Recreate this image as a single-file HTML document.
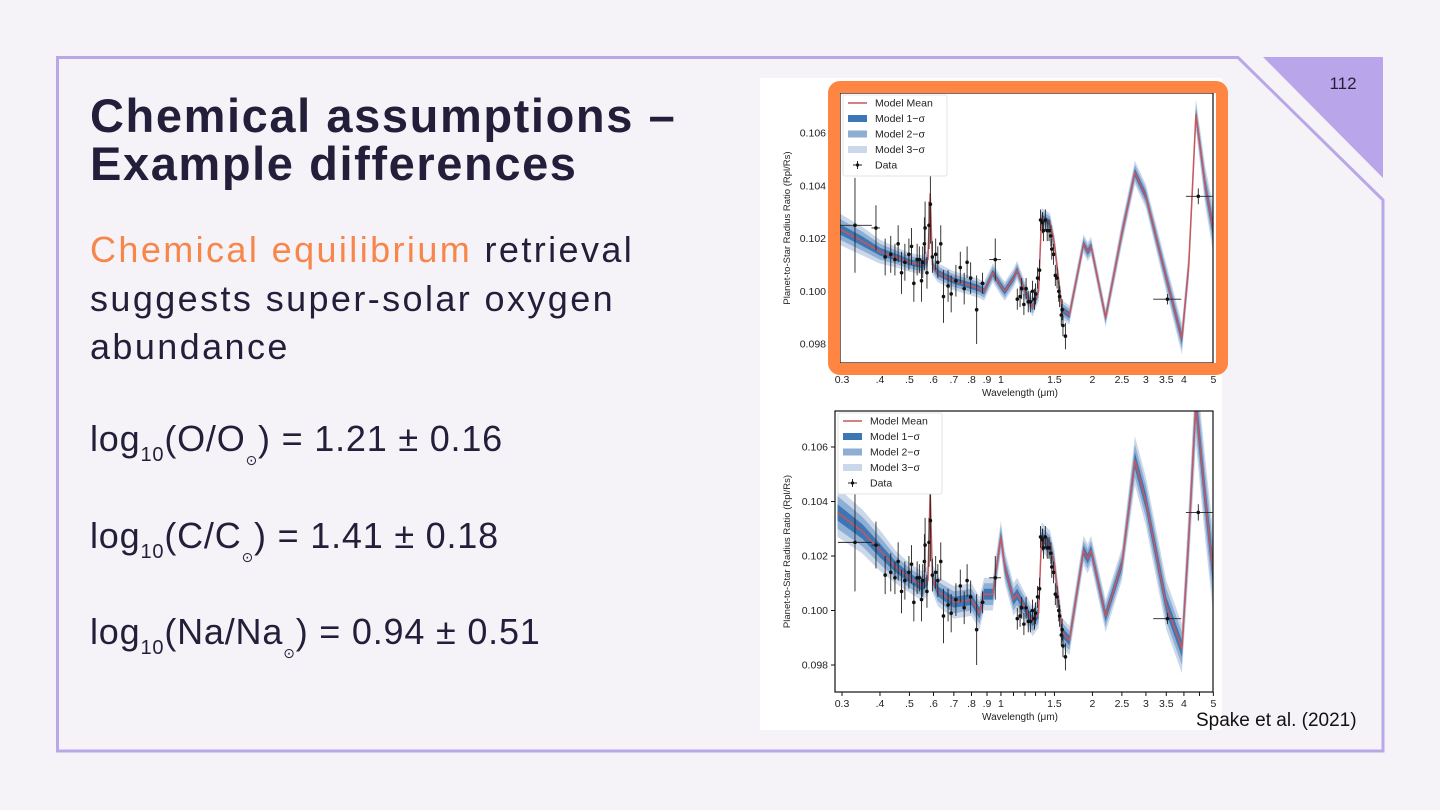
<!DOCTYPE html>
<html><head><meta charset="utf-8">
<style>
body{margin:0;width:1440px;height:810px;background:#f5f3f7;overflow:hidden;position:relative;font-family:"Liberation Sans","DejaVu Sans",sans-serif;color:#231f3a}
.abs{position:absolute;white-space:nowrap}
.title{left:90px;top:92px;font-size:47px;font-weight:bold;line-height:48px;letter-spacing:1.6px}
.body{left:90px;top:226px;font-size:36px;line-height:48.5px;letter-spacing:2.4px}
.eq{left:90px;font-size:36px;letter-spacing:0.8px}
.eq sub{font-size:20px;vertical-align:-10px}
.eq .sun{font-size:14px;vertical-align:-14px}
</style></head><body>
<svg class="abs" style="left:0;top:0" width="1440" height="810">
<path d="M57.5 57.5 L1238 57.5 L1383 200 L1383 751 L57.5 751 Z" fill="none" stroke="#b9a8e8" stroke-width="3"/>
<path d="M1263 57 L1383 57 L1383 178 Z" fill="#b9a6ea"/>
<text x="1343" y="89" font-size="17" text-anchor="middle" fill="#231f3a" font-family="Liberation Sans">112</text>
</svg>
<div class="abs title">Chemical assumptions –<br>Example differences</div>
<div class="abs body"><span style="color:#f7864b">Chemical equilibrium</span> retrieval<br>suggests super-solar oxygen<br>abundance</div>
<div class="abs eq" style="top:418px">log<sub>10</sub>(O/O<span class="sun">⊙</span>) = 1.21 ± 0.16</div>
<div class="abs eq" style="top:515px">log<sub>10</sub>(C/C<span class="sun">⊙</span>) = 1.41 ± 0.18</div>
<div class="abs eq" style="top:611px">log<sub>10</sub>(Na/Na<span class="sun">⊙</span>) = 0.94 ± 0.51</div>
<div class="abs" style="left:760px;top:78px;width:462px;height:652px;background:#fff"></div>
<svg id="fig" class="abs" style="left:0;top:0" width="1440" height="810"></svg>
<div class="abs" style="left:1196px;top:710px;font-size:19px;color:#111">Spake et al. (2021)</div>
<script>
const modelWl=[0.29,0.35,0.4,0.45,0.5,0.55,0.575,0.585,0.595,0.62,0.7,0.8,0.85,0.88,0.94,1.0,1.03,1.1,1.13,1.2,1.27,1.33,1.36,1.45,1.5,1.59,1.68,1.87,1.93,1.98,2.21,2.5,2.76,3.0,3.5,3.94,4.15,4.38,4.7,5.0];
const topMean=[0.1024,0.1019,0.1015,0.1013,0.1011,0.1010,0.1012,0.1037,0.1010,0.1007,0.1004,0.1002,0.1001,0.1000,0.1007,0.1002,0.1000,0.1005,0.1008,0.1000,0.0994,0.1000,0.1028,0.1026,0.1018,0.0993,0.0991,0.1018,0.1015,0.1017,0.0990,0.1022,0.1045,0.1036,0.1005,0.0982,0.1010,0.1067,0.1040,0.1023];
const topSig=[0.0002,0.00018,0.00015,0.00013,0.00012,0.00012,0.00012,0.00012,0.00012,0.00012,0.00012,0.00012,0.00012,0.00012,0.00012,0.00012,0.00012,0.00012,0.00012,0.00012,0.00012,0.00012,0.00012,0.00012,0.00012,0.00012,0.00012,0.00012,0.00012,0.00012,0.00012,0.00015,0.00015,0.00015,0.00018,0.0002,0.0002,0.0002,0.00025,0.0003];
const botMean=[0.1036,0.1029,0.1022,0.1016,0.1012,0.1009,0.1011,0.1044,0.1012,0.1007,0.1003,0.1004,0.0999,0.1006,0.1006,0.1027,0.1016,0.1004,0.1006,0.1001,0.0996,0.0999,0.1027,0.1024,0.1017,0.0992,0.0989,0.1022,0.1019,0.1022,0.0998,0.1017,0.1055,0.1040,0.1002,0.0986,0.1027,0.1076,0.1041,0.1013];
const botSig=[0.0003,0.00027,0.00025,0.0002,0.00018,0.00018,0.00018,0.00018,0.00018,0.00018,0.0002,0.0002,0.0002,0.0002,0.0002,0.0002,0.0002,0.0002,0.0002,0.00018,0.00018,0.00018,0.00018,0.00018,0.00018,0.00018,0.00018,0.00018,0.00018,0.00018,0.0002,0.0002,0.0003,0.0003,0.0003,0.0003,0.0004,0.0005,0.0005,0.0005];
const dataWl=[0.331,0.388,0.416,0.434,0.448,0.459,0.471,0.483,0.498,0.508,0.517,0.530,0.539,0.548,0.553,0.560,0.563,0.571,0.580,0.586,0.595,0.610,0.620,0.634,0.647,0.670,0.686,0.711,0.735,0.757,0.774,0.795,0.832,0.870,0.958,1.132,1.156,1.17,1.19,1.21,1.23,1.25,1.27,1.29,1.30,1.32,1.34,1.35,1.37,1.38,1.40,1.42,1.44,1.46,1.47,1.49,1.51,1.53,1.55,1.56,1.58,1.59,1.60,1.63,3.53,4.46];
const dataVal=[0.1025,0.1024,0.1013,0.1014,0.1012,0.1018,0.1007,0.1011,0.1014,0.1017,0.1003,0.1012,0.1012,0.1004,0.1011,0.1018,0.1024,0.1007,0.1025,0.1033,0.1013,0.1014,0.1011,0.1018,0.0998,0.1002,0.0999,0.1004,0.1009,0.1001,0.1011,0.1005,0.0993,0.1003,0.1012,0.0997,0.0998,0.1001,0.0995,0.1001,0.0996,0.0996,0.1000,0.0997,0.0999,0.1005,0.1008,0.1027,0.1026,0.1023,0.1027,0.1023,0.1023,0.1021,0.1016,0.1014,0.1006,0.1005,0.1000,0.0998,0.0991,0.0993,0.0987,0.0983,0.0997,0.1036];
const dataErr=[0.0018,0.00086,0.0007,0.0007,0.0006,0.0007,0.0008,0.0007,0.0006,0.0007,0.0007,0.0006,0.0005,0.0008,0.0006,0.001,0.001,0.0006,0.0009,0.0015,0.0006,0.0006,0.0006,0.0007,0.001,0.0006,0.0007,0.0006,0.0006,0.0006,0.0006,0.0006,0.0013,0.0004,0.0008,0.0004,0.0004,0.0004,0.0004,0.0004,0.0004,0.0004,0.0004,0.0004,0.0004,0.0004,0.0004,0.0004,0.0004,0.0004,0.0004,0.0004,0.0004,0.0004,0.0004,0.0004,0.0004,0.0004,0.0004,0.0004,0.0004,0.0004,0.0004,0.0005,0.0002,0.0003];
const dataXLo=[0.291,0.375,0.416,0.434,0.448,0.459,0.471,0.483,0.498,0.508,0.517,0.530,0.539,0.548,0.553,0.560,0.563,0.571,0.580,0.586,0.595,0.610,0.620,0.634,0.647,0.670,0.686,0.711,0.735,0.757,0.774,0.795,0.832,0.855,0.915,1.132,1.156,1.17,1.19,1.21,1.23,1.25,1.27,1.29,1.30,1.32,1.34,1.35,1.37,1.38,1.40,1.42,1.44,1.46,1.47,1.49,1.51,1.53,1.55,1.56,1.58,1.59,1.60,1.63,3.17,4.06];
const dataXHi=[0.376,0.40,0.416,0.434,0.448,0.459,0.471,0.483,0.498,0.508,0.517,0.530,0.539,0.548,0.553,0.560,0.563,0.571,0.580,0.586,0.595,0.610,0.620,0.634,0.647,0.670,0.686,0.711,0.735,0.757,0.774,0.795,0.832,0.885,1.0,1.132,1.156,1.17,1.19,1.21,1.23,1.25,1.27,1.29,1.30,1.32,1.34,1.35,1.37,1.38,1.40,1.42,1.44,1.46,1.47,1.49,1.51,1.53,1.55,1.56,1.58,1.59,1.60,1.63,3.92,5.0];
const xTickVals=[0.3,0.4,0.5,0.6,0.7,0.8,0.9,1,1.1,1.2,1.3,1.4,1.5,2,2.5,3,3.5,4,4.5,5];
const xTickLabels=['0.3','.4','.5','.6','.7','.8','.9','1','','','','','1.5','2','2.5','3','3.5','4','','5'];
const yTickVals=[0.098,0.100,0.102,0.104,0.106];
const yTickLabels=['0.098','0.100','0.102','0.104','0.106'];

const NS='http://www.w3.org/2000/svg';
const fig=document.getElementById('fig');
function mk(tag,attrs,parent){const e=document.createElementNS(NS,tag);for(const k in attrs)e.setAttribute(k,attrs[k]);(parent||fig).appendChild(e);return e;}

function drawChart(c){
  const g=mk('g',{});
  
  
  const X=w=>c.x0+(Math.log(w)-Math.log(0.3))*c.kx;
  const Y=v=>c.y106+(0.106-v)*c.ky;
  const clipId=c.name+'-clip';
  const cp=mk('clipPath',{id:clipId},g);
  mk('rect',{x:c.L,y:c.T,width:c.R-c.L,height:c.B-c.T},cp);
  const pg=mk('g',{'clip-path':'url(#'+clipId+')'},g);
  const cols=['#cbd8ea','#8eaed3','#3d76b5'];
  [3,2,1].forEach((k,i)=>{
    let up=modelWl.map((w,j)=>X(w).toFixed(1)+','+Y(c.mean[j]+k*c.sig[j]).toFixed(1));
    let dn=modelWl.map((w,j)=>X(w).toFixed(1)+','+Y(c.mean[j]-k*c.sig[j]).toFixed(1)).reverse();
    const p=mk('polygon',{points:up.concat(dn).join(' '),fill:cols[i]},pg);
    
    
  });
  const ml=mk('polyline',{points:modelWl.map((w,j)=>X(w).toFixed(1)+','+Y(c.mean[j]).toFixed(1)).join(' '),fill:'none',stroke:'#c9565a','stroke-width':1.5,'stroke-linejoin':'round'},pg);
  
  
  dataWl.forEach((w,i)=>{
    const dg=mk('g',{stroke:'#222','stroke-width':0.9},pg);
    
    
    mk('line',{x1:X(w),x2:X(w),y1:Y(dataVal[i]-dataErr[i]),y2:Y(dataVal[i]+dataErr[i])},dg);
    if(dataXHi[i]>dataXLo[i])mk('line',{x1:X(dataXLo[i]),x2:X(dataXHi[i]),y1:Y(dataVal[i]),y2:Y(dataVal[i])},dg);
    mk('circle',{cx:X(w),cy:Y(dataVal[i]),r:1.8,fill:'#111',stroke:'none'},dg);
  });
  mk('rect',{x:c.L,y:c.T,width:c.R-c.L,height:c.B-c.T,fill:'none',stroke:'#111','stroke-width':1.2},g);
  xTickVals.forEach((v,i)=>{
    mk('line',{x1:X(v),x2:X(v),y1:c.B,y2:c.B+4,stroke:'#111','stroke-width':1},g);
    if(xTickLabels[i]){const t=mk('text',{x:X(v),y:c.xlY,'font-size':10.5,'text-anchor':'middle',fill:'#222'},g);t.textContent=xTickLabels[i];}
  });
  yTickVals.forEach((v,i)=>{
    mk('line',{x1:c.L-4,x2:c.L,y1:Y(v),y2:Y(v),stroke:'#111','stroke-width':1},g);
    const t=mk('text',{x:c.ylX,y:Y(v)+3.5,'font-size':10.5,'text-anchor':'end',fill:'#222'},g);t.textContent=yTickLabels[i];
  });
  const xl=mk('text',{x:1020,y:c.xlY+13,'font-size':10,'text-anchor':'middle',fill:'#222'},g);
  xl.textContent='Wavelength (μm)';
  
  
  const yc=(c.T+c.B)/2;
  const yl=mk('text',{x:790,y:yc,'font-size':9.5,'text-anchor':'middle',fill:'#222',transform:'rotate(-90 790 '+yc+')'},g);
  yl.textContent='Planet-to-Star Radius Ratio (Rpl/Rs)';
  
  
  const lg=mk('g',{},g);
  
  
  mk('rect',{x:c.L+3,y:c.T+2,width:104,height:81,fill:'#fff',stroke:'#ddd','stroke-width':0.8,rx:2},lg);
  const labs=['Model Mean','Model 1−σ','Model 2−σ','Model 3−σ','Data'];
  labs.forEach((s,i)=>{
    const yy=c.T+10+i*15.5;
    if(i==0)mk('line',{x1:c.L+8,x2:c.L+27,y1:yy,y2:yy,stroke:'#c9565a','stroke-width':1.6},lg);
    else if(i<4)mk('rect',{x:c.L+8,y:yy-3.5,width:19,height:7,fill:['','#3d76b5','#8eaed3','#cbd8ea'][i]},lg);
    else{mk('line',{x1:c.L+13,x2:c.L+22,y1:yy,y2:yy,stroke:'#222'},lg);mk('line',{x1:c.L+17.5,x2:c.L+17.5,y1:yy-4,y2:yy+4,stroke:'#222'},lg);mk('circle',{cx:c.L+17.5,cy:yy,r:1.6,fill:'#111'},lg);}
    const t=mk('text',{x:c.L+35,y:yy+3.5,'font-size':10.5,fill:'#222'},lg);t.textContent=s;
  });
}
drawChart({name:'top-chart',L:840,R:1213,T:93,B:363,x0:842,kx:132,y106:133,ky:26375,mean:topMean,sig:topSig,ylX:826,xlY:383});
drawChart({name:'bottom-chart',L:835,R:1213,T:411,B:692,x0:842,kx:132,y106:447,ky:27250,mean:botMean,sig:botSig,ylX:828,xlY:707});
const fr=mk('rect',{x:834,y:87,width:388,height:282,fill:'none',stroke:'#ff8642','stroke-width':12,rx:6});


</script>
</body></html>
